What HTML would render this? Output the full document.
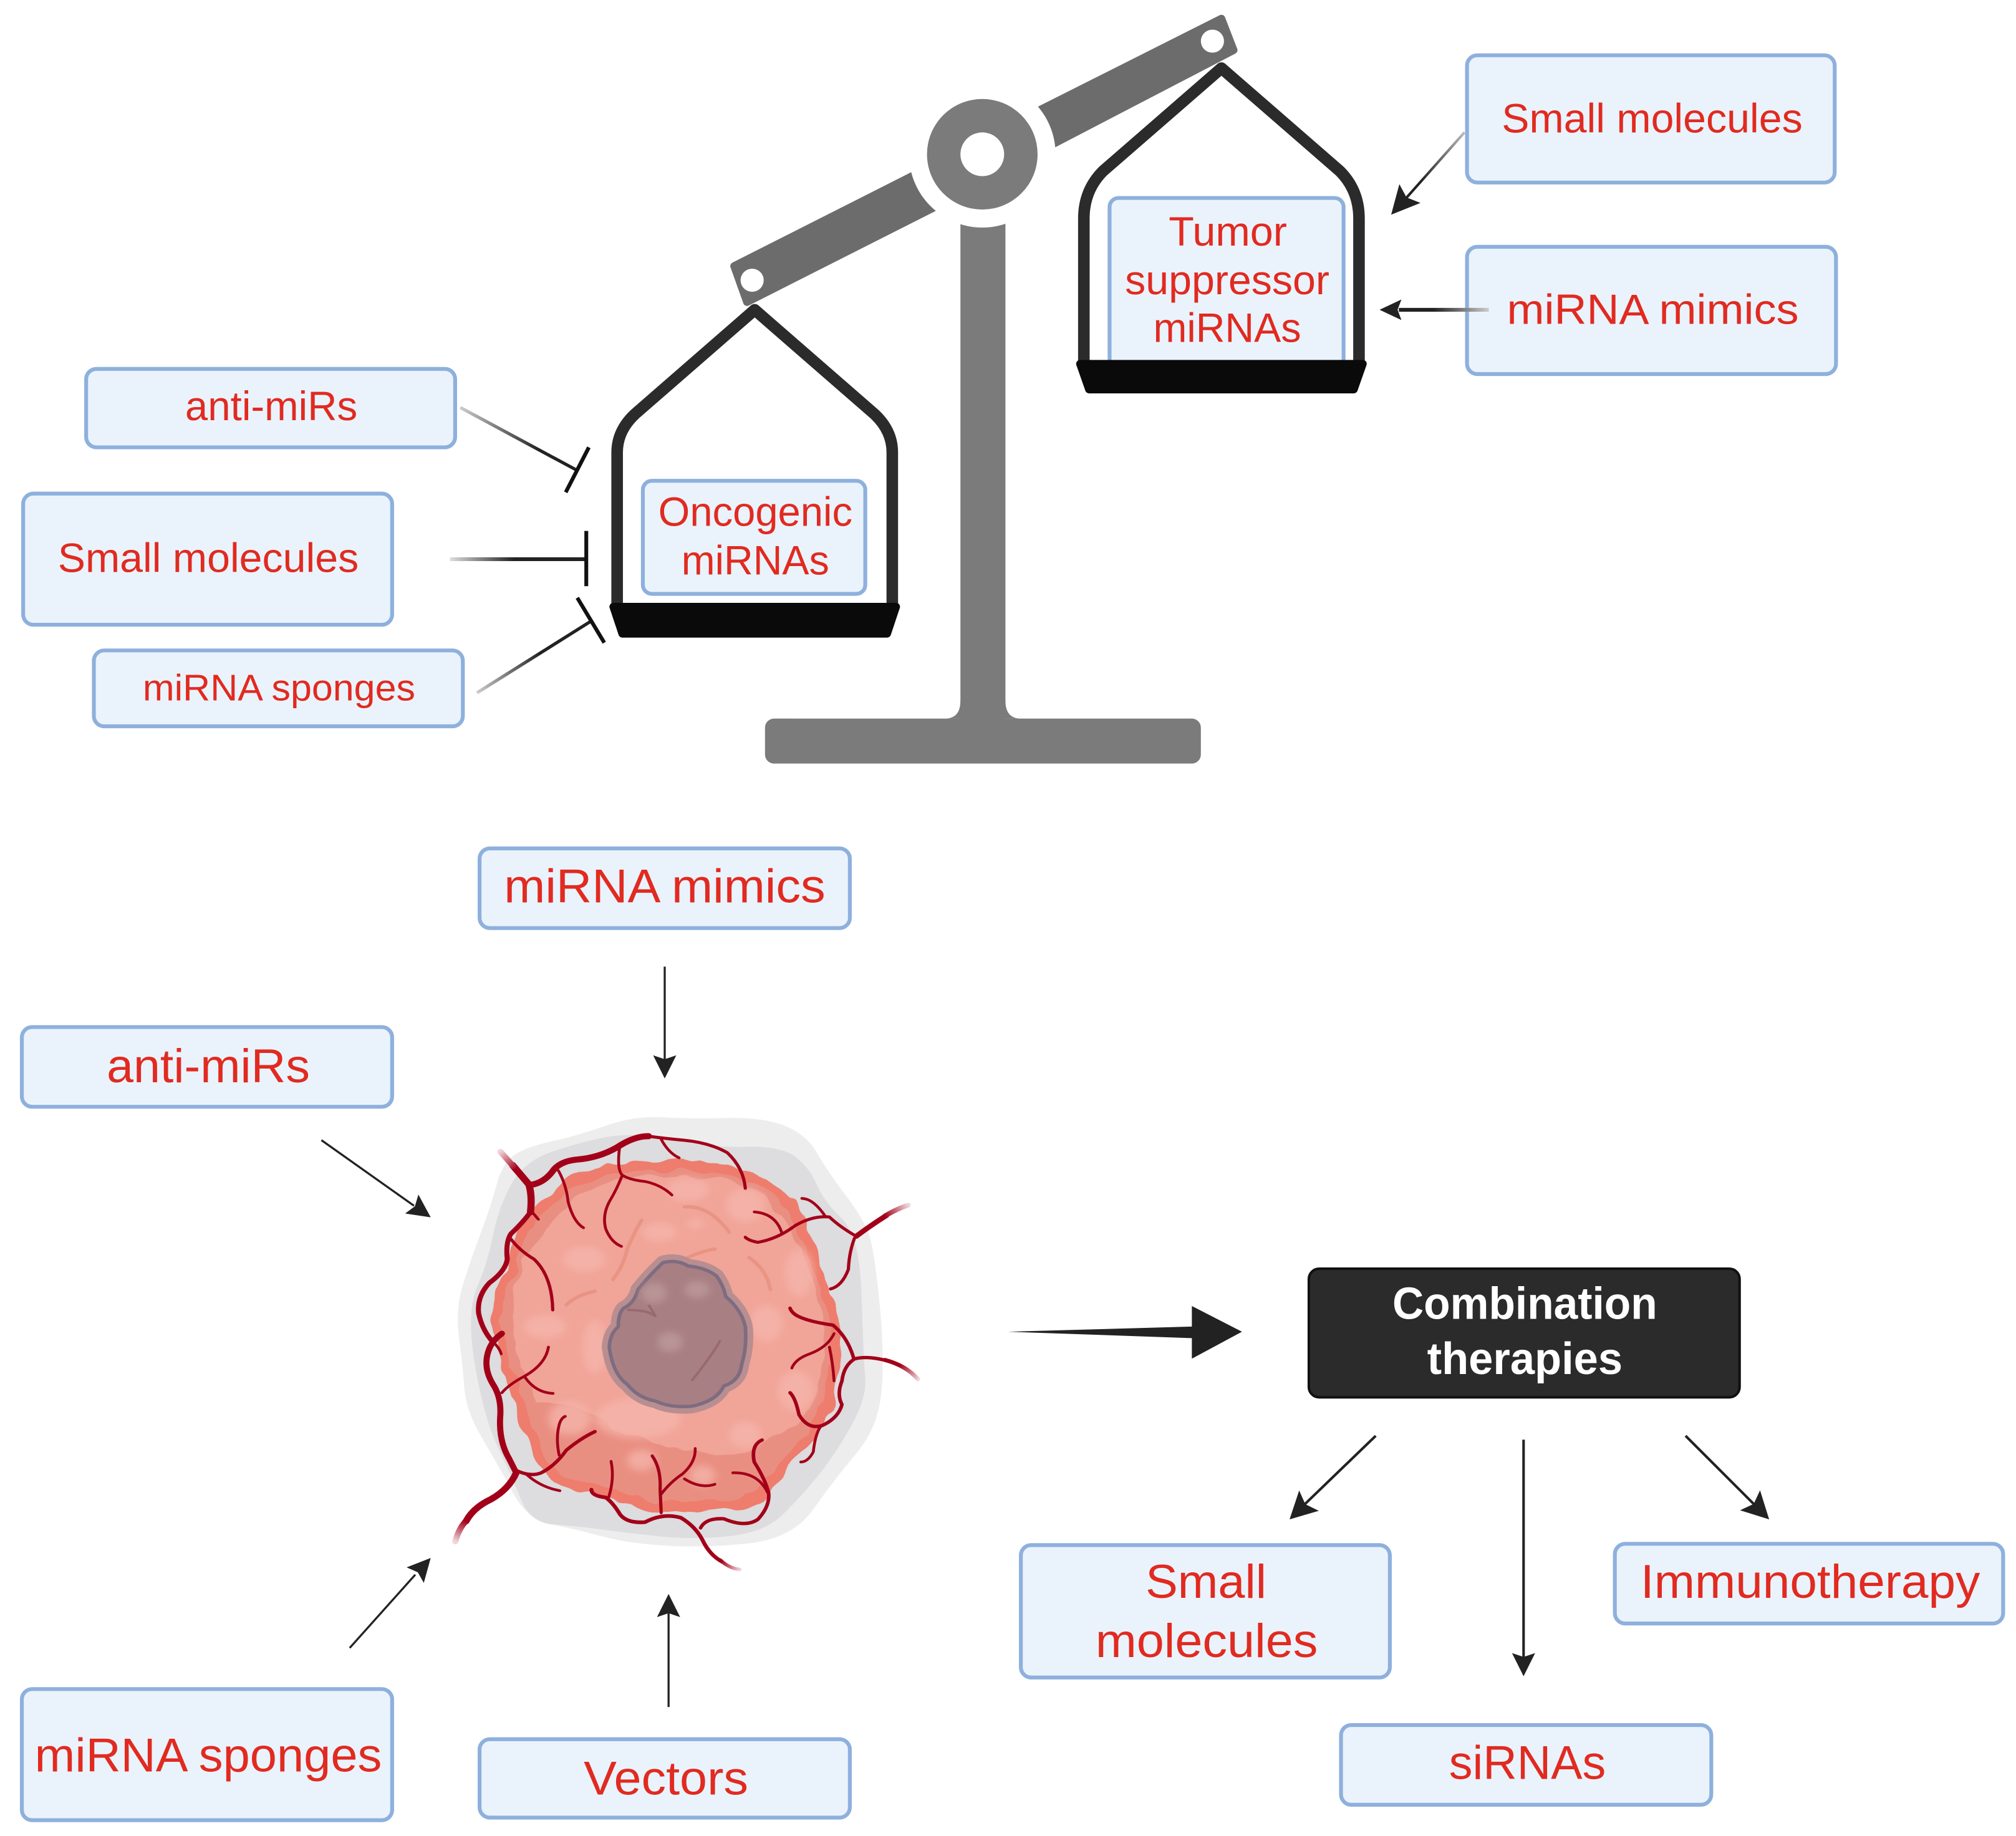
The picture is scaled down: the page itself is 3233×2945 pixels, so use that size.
<!DOCTYPE html>
<html><head><meta charset="utf-8"><style>
html,body{margin:0;padding:0;background:#fff}
svg{display:block}
text{font-family:"Liberation Sans",sans-serif;fill:#e12a20;text-anchor:start}
.b{fill:#eaf3fc;stroke:#8eb0dd;stroke-width:3}
.h{fill:#222}
.l{stroke:#222;stroke-width:1.6;fill:none}
.v{fill:none;stroke:#a20019;stroke-linecap:round;stroke-linejoin:round}
</style></head><body>
<svg xmlns="http://www.w3.org/2000/svg" width="3233" height="2945" viewBox="0 0 1568 1428.3">
<defs>
<filter id="s" x="-20%" y="-20%" width="140%" height="140%"><feGaussianBlur stdDeviation="5"/></filter>
<filter id="t" x="-50%" y="-50%" width="200%" height="200%"><feGaussianBlur stdDeviation="11"/></filter>
<filter id="w" x="-10%" y="-10%" width="120%" height="120%" color-interpolation-filters="sRGB"><feTurbulence type="fractalNoise" baseFrequency=".014" numOctaves="2" seed="4" result="n"/><feDisplacementMap in="SourceGraphic" in2="n" scale="34" xChannelSelector="R" yChannelSelector="G"/></filter>
<linearGradient id="g1" gradientUnits="userSpaceOnUse" x1="358" y1="317" x2="420" y2="350"><stop offset="0" stop-color="#ccc"/><stop offset="1" stop-color="#222"/></linearGradient>
<linearGradient id="g2" gradientUnits="userSpaceOnUse" x1="350" y1="435" x2="400" y2="435"><stop offset="0" stop-color="#ddd"/><stop offset="1" stop-color="#222"/></linearGradient>
<linearGradient id="g3" gradientUnits="userSpaceOnUse" x1="371" y1="539" x2="420" y2="508"><stop offset="0" stop-color="#ccc"/><stop offset="1" stop-color="#222"/></linearGradient>
<linearGradient id="g4" gradientUnits="userSpaceOnUse" x1="1139" y1="103" x2="1105" y2="141"><stop offset="0" stop-color="#bbb"/><stop offset="1" stop-color="#222"/></linearGradient>
<linearGradient id="g5" gradientUnits="userSpaceOnUse" x1="1158" y1="241" x2="1115" y2="241"><stop offset="0" stop-color="#ccc"/><stop offset="1" stop-color="#222"/></linearGradient>
<linearGradient id="a1" gradientUnits="userSpaceOnUse" x1="265" y1="270" x2="310" y2="325"><stop offset="0" stop-color="#f0d5da"/><stop offset="1" stop-color="#a20019"/></linearGradient>
<linearGradient id="a2" gradientUnits="userSpaceOnUse" x1="1405" y1="430" x2="1340" y2="465"><stop offset="0" stop-color="#f0d5da"/><stop offset="1" stop-color="#a20019"/></linearGradient>
<linearGradient id="a3" gradientUnits="userSpaceOnUse" x1="1435" y1="945" x2="1385" y2="900"><stop offset="0" stop-color="#f0d5da"/><stop offset="1" stop-color="#a20019"/></linearGradient>
<linearGradient id="a4" gradientUnits="userSpaceOnUse" x1="935" y1="1508" x2="885" y2="1480"><stop offset="0" stop-color="#f0d5da"/><stop offset="1" stop-color="#a20019"/></linearGradient>
<linearGradient id="a5" gradientUnits="userSpaceOnUse" x1="140" y1="1425" x2="170" y2="1365"><stop offset="0" stop-color="#f0d5da"/><stop offset="1" stop-color="#a20019"/></linearGradient>
</defs>

<!-- scale -->
<g fill="#6c6c6c" stroke="#6c6c6c" stroke-width="6" stroke-linejoin="round">
<polygon points="571,207 735,124 745,152 581,235"/>
<polygon points="790,95 950,14.5 959.5,39 800,122"/>
</g>
<rect x="747" y="150" width="35" height="420" fill="#7b7b7b"/>
<path d="M735 559 Q747 559 747 545 L782 545 Q782 559 794 559Z" fill="#7b7b7b"/>
<rect x="595" y="559" width="339" height="35" rx="7" fill="#7b7b7b"/>
<circle cx="764" cy="120" r="57" fill="#fff"/>
<circle cx="764" cy="120" r="43" fill="#7b7b7b"/>
<circle cx="764" cy="120" r="17" fill="#fff"/>
<circle cx="585" cy="218" r="9" fill="#fff"/>
<circle cx="943" cy="32" r="9" fill="#fff"/>

<!-- tumor suppressor pan -->
<rect class="b" x="863" y="154" width="182" height="140" rx="7"/>
<path d="M843 284 L843 170 Q843 148 858 133 L950 53 L1042 133 Q1057 148 1057 170 L1057 284" fill="none" stroke="#2b2b2b" stroke-width="9" stroke-linejoin="round"/>
<polygon points="840,283 1060,283 1053,303 847,303" fill="#0a0a0a" stroke="#0a0a0a" stroke-width="6" stroke-linejoin="round"/>
<!-- oncogenic pan -->
<rect class="b" x="500" y="374" width="173" height="88" rx="7"/>
<path d="M480 472 L480 352 Q480 335 494 322 L587 241 L680 322 Q694 335 694 352 L694 472" fill="none" stroke="#2b2b2b" stroke-width="9" stroke-linejoin="round"/>
<polygon points="477,472 697,472 690,493 484,493" fill="#0a0a0a" stroke="#0a0a0a" stroke-width="6" stroke-linejoin="round"/>

<!-- boxes -->
<rect class="b" x="1141" y="43" width="286" height="99" rx="8"/>
<rect class="b" x="1141" y="192" width="287" height="99" rx="8"/>
<rect class="b" x="67" y="287" width="287" height="61" rx="8"/>
<rect class="b" x="18" y="384" width="287" height="102" rx="8"/>
<rect class="b" x="73" y="506" width="287" height="59" rx="8"/>
<rect class="b" x="373" y="660" width="288" height="62" rx="8"/>
<rect class="b" x="17" y="799" width="288" height="62" rx="8"/>
<rect class="b" x="17" y="1314" width="288" height="102" rx="8"/>
<rect class="b" x="373" y="1353" width="288" height="61" rx="8"/>
<rect class="b" x="794" y="1202" width="287" height="103" rx="8"/>
<rect class="b" x="1256" y="1201" width="302" height="62" rx="8"/>
<rect class="b" x="1043" y="1342" width="288" height="62" rx="8"/>
<rect x="1018" y="987" width="335" height="100" rx="8" fill="#2b2b2b" stroke="#111" stroke-width="2"/>

<!-- labels -->
<text x="1168" y="103" font-size="32" textLength="234" lengthAdjust="spacingAndGlyphs">Small molecules</text>
<text x="1172" y="252" font-size="33" textLength="227" lengthAdjust="spacingAndGlyphs">miRNA mimics</text>
<text x="909" y="191" font-size="32" textLength="92" lengthAdjust="spacingAndGlyphs">Tumor</text>
<text x="875" y="229" font-size="32" textLength="159" lengthAdjust="spacingAndGlyphs">suppressor</text>
<text x="897" y="266" font-size="32" textLength="115" lengthAdjust="spacingAndGlyphs">miRNAs</text>
<text x="144" y="327" font-size="32" textLength="134" lengthAdjust="spacingAndGlyphs">anti-miRs</text>
<text x="45" y="445" font-size="32" textLength="234" lengthAdjust="spacingAndGlyphs">Small molecules</text>
<text x="111" y="545" font-size="29" textLength="212" lengthAdjust="spacingAndGlyphs">miRNA sponges</text>
<text x="512" y="409" font-size="32" textLength="151" lengthAdjust="spacingAndGlyphs">Oncogenic</text>
<text x="530" y="447" font-size="32" textLength="115" lengthAdjust="spacingAndGlyphs">miRNAs</text>
<text x="392" y="702" font-size="37" textLength="250" lengthAdjust="spacingAndGlyphs">miRNA mimics</text>
<text x="83" y="842" font-size="37" textLength="158" lengthAdjust="spacingAndGlyphs">anti-miRs</text>
<text x="27" y="1378" font-size="37" textLength="270" lengthAdjust="spacingAndGlyphs">miRNA sponges</text>
<text x="454" y="1396" font-size="37" textLength="128" lengthAdjust="spacingAndGlyphs">Vectors</text>
<text x="891" y="1243" font-size="37" textLength="94" lengthAdjust="spacingAndGlyphs">Small</text>
<text x="852" y="1289" font-size="37" textLength="173" lengthAdjust="spacingAndGlyphs">molecules</text>
<text x="1276" y="1243" font-size="37" textLength="264" lengthAdjust="spacingAndGlyphs">Immunotherapy</text>
<text x="1127" y="1384" font-size="37" textLength="122" lengthAdjust="spacingAndGlyphs">siRNAs</text>
<text x="1083" y="1026" font-size="35" font-weight="bold" style="fill:#fff" textLength="206" lengthAdjust="spacingAndGlyphs">Combination</text>
<text x="1110" y="1069" font-size="35" font-weight="bold" style="fill:#fff" textLength="152" lengthAdjust="spacingAndGlyphs">therapies</text>

<!-- inhibitors -->
<line x1="358" y1="317" x2="449" y2="366" stroke="url(#g1)" stroke-width="2.5"/>
<line x1="458" y1="348" x2="440" y2="383" stroke="#111" stroke-width="3"/>
<line x1="350" y1="435" x2="455" y2="435" stroke="url(#g2)" stroke-width="3"/>
<line x1="456" y1="413" x2="456" y2="456" stroke="#111" stroke-width="3"/>
<line x1="371" y1="539" x2="460" y2="483" stroke="url(#g3)" stroke-width="2.5"/>
<line x1="449" y1="465" x2="470" y2="500" stroke="#111" stroke-width="3"/>

<!-- arrows -->
<line x1="1139" y1="103" x2="1092" y2="156" stroke="url(#g4)" stroke-width="2"/>
<polygon class="h" points="0,0 -22,-11 -18,0 -22,11" transform="translate(1082,167) rotate(131.6)"/>
<line x1="1158" y1="241" x2="1088" y2="241" stroke="url(#g5)" stroke-width="3"/>
<polygon class="h" points="0,0 -17,-8 -14,0 -17,8" transform="translate(1073,241) rotate(180)"/>
<line class="l" x1="517" y1="752" x2="517" y2="825"/>
<polygon class="h" points="0,0 -18,-9 -15,0 -18,9" transform="translate(517,839) rotate(90)"/>
<line class="l" x1="250" y1="887" x2="322" y2="938"/>
<polygon class="h" points="0,0 -18,-9 -15,0 -18,9" transform="translate(335,947) rotate(35)"/>
<line class="l" x1="272" y1="1282" x2="323" y2="1225"/>
<polygon class="h" points="0,0 -18,-9 -15,0 -18,9" transform="translate(335,1212) rotate(-48)"/>
<line class="l" x1="520" y1="1328" x2="520" y2="1255"/>
<polygon class="h" points="0,0 -18,-9 -15,0 -18,9" transform="translate(520,1240) rotate(-90)"/>
<polygon class="h" points="784,1036 927,1032 927,1016 966,1036 927,1057 927,1041"/>
<line class="l" x1="1070" y1="1117" x2="1014" y2="1171" style="stroke-width:2"/>
<polygon class="h" points="0,0 -21,-11 -17,0 -21,11" transform="translate(1003,1182) rotate(136)"/>
<line class="l" x1="1185" y1="1120" x2="1185" y2="1290" style="stroke-width:2"/>
<polygon class="h" points="0,0 -18,-9 -15,0 -18,9" transform="translate(1185,1304) rotate(90)"/>
<line class="l" x1="1311" y1="1117" x2="1365" y2="1171" style="stroke-width:2"/>
<polygon class="h" points="0,0 -21,-11 -17,0 -21,11" transform="translate(1376,1182) rotate(45)"/>

<!-- tumor -->
<g transform="translate(315.2,824.5) scale(.2784,.2629)">
<path fill="#eeedee" d="M150 820 Q140 740 160 670 Q180 600 210 515 Q240 430 255 370 Q270 310 300 285 Q330 260 405 242 Q480 225 560 195 Q640 165 720 170 Q800 175 900 172 Q1000 170 1060 195 Q1120 220 1150 275 Q1180 330 1230 400 Q1280 470 1295 515 Q1310 560 1325 720 Q1340 880 1330 985 Q1320 1090 1260 1165 Q1200 1240 1140 1330 Q1080 1420 950 1432 Q820 1445 720 1437 Q620 1430 550 1410 Q480 1390 410 1375 Q340 1360 300 1280 Q260 1200 215 1120 Q170 1040 165 970 Q160 900 150 820Z"/>
<path fill="#dddcde" d="M195 905 Q170 750 200 675 Q230 600 245 520 Q260 440 295 370 Q330 300 415 270 Q500 240 570 227 Q640 215 750 237 Q860 260 955 257 Q1050 255 1090 287 Q1130 320 1150 370 Q1170 420 1220 470 Q1270 520 1275 700 Q1280 880 1285 940 Q1290 1000 1245 1085 Q1200 1170 1150 1235 Q1100 1300 1050 1350 Q1000 1400 900 1410 Q800 1420 710 1410 Q620 1400 550 1390 Q480 1380 415 1375 Q350 1370 325 1305 Q300 1240 260 1150 Q220 1060 195 905Z"/>
<g filter="url(#w)">
<path fill="#ee7d6d" d="M245 785 Q240 720 265 660 Q290 600 300 555 Q310 510 355 450 Q400 390 450 360 Q500 330 550 312 Q600 295 660 302 Q720 310 755 300 Q790 290 845 300 Q900 310 950 325 Q1000 340 1050 385 Q1100 430 1120 480 Q1140 530 1165 605 Q1190 680 1205 740 Q1220 800 1215 860 Q1210 920 1205 970 Q1200 1020 1165 1075 Q1130 1130 1115 1150 Q1100 1170 1075 1200 Q1050 1230 1025 1275 Q1000 1320 930 1325 Q860 1330 810 1330 Q760 1330 730 1335 Q700 1340 650 1320 Q600 1300 550 1290 Q500 1280 450 1265 Q400 1250 370 1185 Q340 1120 320 1060 Q300 1000 275 925 Q250 850 245 785Z"/>
<path fill="#e98f82" transform="translate(730,815) scale(.945) translate(-730,-815)" d="M245 785 Q240 720 265 660 Q290 600 300 555 Q310 510 355 450 Q400 390 450 360 Q500 330 550 312 Q600 295 660 302 Q720 310 755 300 Q790 290 845 300 Q900 310 950 325 Q1000 340 1050 385 Q1100 430 1120 480 Q1140 530 1165 605 Q1190 680 1205 740 Q1220 800 1215 860 Q1210 920 1205 970 Q1200 1020 1165 1075 Q1130 1130 1115 1150 Q1100 1170 1075 1200 Q1050 1230 1025 1275 Q1000 1320 930 1325 Q860 1330 810 1330 Q760 1330 730 1335 Q700 1340 650 1320 Q600 1300 550 1290 Q500 1280 450 1265 Q400 1250 370 1185 Q340 1120 320 1060 Q300 1000 275 925 Q250 850 245 785Z"/>
<path fill="#f1a498" d="M300 760 Q300 620 370 530 Q450 400 600 350 Q720 340 880 350 Q1010 380 1090 520 Q1150 650 1170 800 Q1170 950 1130 1040 Q1070 1100 1020 1120 Q900 1200 760 1150 Q650 1130 540 1060 Q450 1010 370 1020 Q310 900 300 760Z"/>
</g>
<g filter="url(#t)" fill="#f6b6ac" opacity=".75">
<ellipse cx="500" cy="590" rx="60" ry="38"/><ellipse cx="710" cy="510" rx="50" ry="28"/><ellipse cx="810" cy="485" rx="25" ry="15"/>
<ellipse cx="790" cy="385" rx="60" ry="35"/><ellipse cx="950" cy="430" rx="55" ry="50"/><ellipse cx="1010" cy="780" rx="45" ry="55"/>
<ellipse cx="1100" cy="630" rx="40" ry="70"/><ellipse cx="390" cy="790" rx="60" ry="35"/><ellipse cx="530" cy="850" rx="35" ry="80"/>
<ellipse cx="1090" cy="980" rx="50" ry="60"/><ellipse cx="950" cy="1110" rx="45" ry="40"/><ellipse cx="660" cy="1185" rx="40" ry="30"/>
<ellipse cx="830" cy="1230" rx="35" ry="30"/><ellipse cx="650" cy="1060" rx="120" ry="60"/><ellipse cx="460" cy="1060" rx="60" ry="50"/>
</g>
<g fill="none" stroke="#e8907f" stroke-width="10" stroke-linecap="round" opacity=".8">
<path d="M450 725 Q480 695 530 685"/><path d="M580 650 Q610 610 620 560"/><path d="M620 560 Q640 510 660 475"/><path d="M790 585 Q830 565 865 560"/><path d="M780 435 Q850 430 905 510"/><path d="M960 585 Q1010 620 1020 680"/>
</g>
<path fill="#b98e90" stroke="#b98e90" stroke-width="42" stroke-linejoin="round" d="M570 850 Q572 810 595 790 Q595 750 610 735 Q640 720 650 680 Q680 640 720 600 Q760 590 790 610 Q840 615 870 640 Q890 670 895 700 Q940 740 950 790 Q955 850 940 900 Q935 950 890 965 Q870 1010 800 1025 Q740 1030 700 1010 Q650 1000 620 960 Q580 930 570 850Z"/>
<path fill="#a87f83" stroke="#7e6c80" stroke-width="10" stroke-linejoin="round" d="M570 850 Q572 810 595 790 Q595 750 610 735 Q640 720 650 680 Q680 640 720 600 Q760 590 790 610 Q840 615 870 640 Q890 670 895 700 Q940 740 950 790 Q955 850 940 900 Q935 950 890 965 Q870 1010 800 1025 Q740 1030 700 1010 Q650 1000 620 960 Q580 930 570 850Z"/>
<g filter="url(#t)" fill="#b99497"><ellipse cx="815" cy="680" rx="35" ry="25"/><ellipse cx="740" cy="835" rx="35" ry="30"/><ellipse cx="695" cy="690" rx="35" ry="30"/></g>
<path fill="none" stroke="#99696f" stroke-width="7" d="M620 740 Q680 740 700 760 M700 760 L680 725 M880 830 Q860 870 800 950"/>

<!-- vessels -->
<g class="v" stroke-width="20">
<path d="M300 312 L345 368 Q355 400 350 450"/>
<path d="M350 370 Q385 365 410 332 Q430 300 480 295 Q540 290 590 260 Q640 225 680 226" stroke-width="18"/>
</g>
<path d="M266 272 L302 315" fill="none" stroke="url(#a1)" stroke-width="17" stroke-linecap="round"/>
<g class="v" stroke-width="14">
<path d="M350 450 Q330 480 295 515 Q280 540 285 590 Q280 625 235 660 Q200 700 205 750 Q215 800 245 835"/>
<path d="M270 810 Q235 835 228 880 Q222 920 245 960 Q270 1000 265 1060 Q262 1130 290 1180 L310 1222" stroke-width="17"/>
<path d="M310 1222 Q290 1270 240 1300 Q190 1325 170 1365" stroke-width="19"/>
</g>
<path d="M172 1362 Q150 1385 140 1425" fill="none" stroke="url(#a5)" stroke-width="17" stroke-linecap="round"/>
<g class="v" stroke-width="8">
<path d="M680 226 Q720 232 780 238 Q850 245 900 275 Q945 320 950 380" stroke-width="9"/>
<path d="M245 835 Q262 850 268 870"/>
<path d="M350 445 L372 472"/>
<path d="M600 250 Q590 320 605 340 Q625 355 670 360 Q715 370 745 400"/>
<path d="M605 345 Q590 385 570 420 Q550 460 560 500 Q575 540 604 552"/>
<path d="M715 235 Q735 275 765 290"/>
<path d="M428 328 Q450 370 455 420 Q470 480 498 497"/>
<path d="M295 530 Q320 565 360 590 Q410 640 412 740" stroke-width="9"/>
<path d="M400 850 Q392 900 335 935 Q290 960 270 985"/>
<path d="M335 940 Q365 985 413 987"/>
<path d="M310 1215 Q350 1235 380 1222 Q420 1200 450 1155 Q490 1120 530 1100" stroke-width="10"/>
<path d="M430 1170 Q420 1120 430 1080 Q435 1060 447 1055"/>
<path d="M340 1228 Q380 1265 432 1275"/>
<path d="M520 1272 Q520 1290 560 1295 Q580 1310 600 1345 Q620 1372 670 1368 Q720 1340 770 1355 Q810 1380 830 1420 Q850 1465 885 1485" stroke-width="11"/>
<path d="M575 1188 Q585 1240 568 1295"/>
<path d="M690 1172 Q715 1210 712 1270 L715 1340" stroke-width="9"/>
<path d="M715 1285 Q740 1250 775 1225 Q812 1190 810 1150"/>
<path d="M780 1240 Q825 1270 865 1256"/>
<path d="M825 1385 Q840 1355 890 1358 Q950 1385 985 1360 Q1020 1320 1015 1280 Q1005 1240 975 1190 Q965 1140 997 1125" stroke-width="10"/>
<path d="M915 1222 Q985 1220 1012 1280"/>
<path d="M1260 522 Q1215 495 1185 465 Q1140 460 1090 490 Q1040 530 985 540 Q960 535 950 525" stroke-width="9"/>
<path d="M1175 465 Q1140 410 1108 410"/>
<path d="M1052 512 Q1035 455 975 450"/>
<path d="M1255 528 Q1240 570 1238 620 Q1220 670 1188 678" stroke-width="9"/>
<path d="M1260 522 Q1300 490 1345 460" stroke-width="15"/>
<path d="M1345 890 Q1290 875 1255 885 Q1225 905 1220 950 Q1205 990 1220 1020 Q1210 1060 1165 1082 Q1125 1095 1100 1050 Q1090 1000 1075 985" stroke-width="10"/>
<path d="M1160 1085 Q1145 1110 1140 1160 Q1125 1190 1105 1190"/>
<path d="M1252 880 Q1235 820 1195 785 Q1130 775 1100 760 Q1080 750 1075 735" stroke-width="10"/>
<path d="M1198 810 Q1180 850 1130 870 Q1090 885 1080 912"/>
<path d="M1185 850 Q1195 900 1198 950"/>
</g>
<path d="M1340 462 Q1375 440 1405 430" fill="none" stroke="url(#a2)" stroke-width="14" stroke-linecap="round"/>
<path d="M1340 888 Q1400 905 1432 945" fill="none" stroke="url(#a3)" stroke-width="12" stroke-linecap="round"/>
<path d="M880 1480 Q905 1505 935 1508" fill="none" stroke="url(#a4)" stroke-width="10" stroke-linecap="round"/>
</g>
</svg>
</body></html>
